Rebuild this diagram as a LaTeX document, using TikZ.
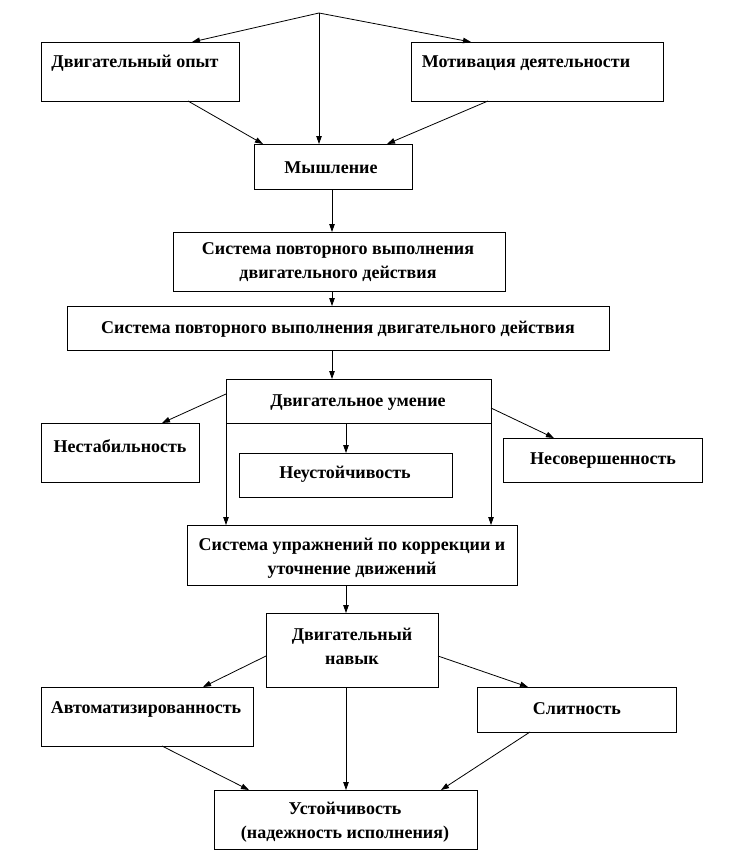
\documentclass[tikz,border=0pt]{standalone}
\usepackage{fontspec}
\setmainfont{Liberation Serif}
\usetikzlibrary{arrows.meta}
\tikzset{
  box/.style={draw=black, line width=0.9pt, inner sep=0pt, outer sep=0pt, fill=white},
  txt/.style={inner sep=0pt, font=\fontsize{18}{24}\selectfont\bfseries, align=center},
  conn/.style={draw=black, line width=0.8pt, -{Triangle[length=8pt,width=5.5pt]}},
}
\begin{document}
\begin{tikzpicture}[x=1pt,y=-1pt]
\useasboundingbox (0,0) rectangle (736,862);
% boxes
\node[box, minimum width=198pt, minimum height=59pt] (opyt) at (140,71.5) {};
\node[box, minimum width=252pt, minimum height=59pt] (motiv) at (537,71.5) {};
\node[box, minimum width=158pt, minimum height=45pt] (mysh) at (333,166.5) {};
\node[box, minimum width=332pt, minimum height=59pt] (sysa) at (339,261.5) {};
\node[box, minimum width=542pt, minimum height=44pt] (sysb) at (338,328) {};
\node[box, minimum width=265pt, minimum height=44pt] (umen) at (358.5,401) {};
\node[box, minimum width=158pt, minimum height=59pt] (nestab) at (120,452.5) {};
\node[box, minimum width=213pt, minimum height=44pt] (neust) at (345.5,475) {};
\node[box, minimum width=199pt, minimum height=44pt] (nesov) at (602.5,460) {};
\node[box, minimum width=330pt, minimum height=60pt] (sysupr) at (352,555) {};
\node[box, minimum width=172pt, minimum height=74pt] (navyk) at (352,650) {};
\node[box, minimum width=212pt, minimum height=59pt] (avtom) at (147,716.5) {};
\node[box, minimum width=199pt, minimum height=45pt] (slit) at (576.5,709.5) {};
\node[box, minimum width=263pt, minimum height=59pt] (ustoi) at (345.5,819.5) {};
% texts
\node[txt] (topyt) at (135,63) {Двигательный опыт};
\node[txt] (tmotiv) at (526,63) {Мотивация деятельности};
\node[txt] (tmysh) at (331,168) {Мышление};
\node[txt] (tsysa) at (338,262.5) {Система повторного выполнения\\двигательного действия};
\node[txt] (tsysb) at (338,329) {Система повторного выполнения двигательного действия};
\node[txt] (tumen) at (358,403) {Двигательное умение};
\node[txt] (tnestab) at (120,446) {Нестабильность};
\node[txt] (tneust) at (345,474) {Неустойчивость};
\node[txt] (tnesov) at (603,461) {Несовершенность};
\node[txt] (tsysupr) at (352,558) {Система упражнений по коррекции и\\уточнение движений};
\node[txt] (tnavyk) at (352,646.5) {Двигательный\\навык};
\node[txt] (tavtom) at (146,709) {Автоматизированность};
\node[txt] (tslit) at (577,709) {Слитность};
\node[txt] (tustoi) at (345,822) {Устойчивость\\(надежность исполнения)};
% connectors
\coordinate (apex) at (319,13);
\draw[conn] (apex) -- ([xshift=151pt]opyt.north west);
\draw[conn] (apex) -- ([xshift=60pt]motiv.north west);
\draw[conn] (apex) -- (apex |- mysh.north);
\draw[conn] ([xshift=147pt]opyt.south west) -- ([xshift=9pt]mysh.north west);
\draw[conn] ([xshift=77pt]motiv.south west) -- ([xshift=-25pt]mysh.north east);
\draw[conn] ([xshift=-1pt]mysh.south) -- ([xshift=-1pt]mysh.south |- sysa.north);
\draw[conn] ([xshift=-1pt]mysh.south |- sysa.south) -- ([xshift=-1pt]mysh.south |- sysb.north);
\draw[conn] ([xshift=-1pt]mysh.south |- sysb.south) -- ([xshift=-1pt]mysh.south |- umen.north);
\draw[conn] ([yshift=7pt]umen.west) -- ([xshift=121pt]nestab.north west);
\draw[conn] ([xshift=0.5pt]neust.north |- umen.south) -- ([xshift=0.5pt]neust.north);
\draw[conn] ([yshift=-7pt]umen.east) -- ([xshift=51pt]nesov.north west);
\draw[conn] (umen.south west) -- (umen.south west |- sysupr.north);
\draw[conn] (umen.south east) -- (umen.south east |- sysupr.north);
\draw[conn] ([xshift=-6pt]sysupr.south) -- ([xshift=-6pt]navyk.north);
\draw[conn] ([yshift=-6pt]navyk.west) -- ([xshift=162pt]avtom.north west);
\draw[conn] ([yshift=-6pt]navyk.east) -- ([xshift=51pt]slit.north west);
\draw[conn] ([xshift=121pt]avtom.south west) -- ([xshift=35pt]ustoi.north west);
\draw[conn] ([xshift=-6pt]navyk.south) -- ([xshift=0.5pt]ustoi.north);
\draw[conn] ([xshift=53pt]slit.south west) -- ([xshift=-36pt]ustoi.north east);
\end{tikzpicture}
\end{document}
